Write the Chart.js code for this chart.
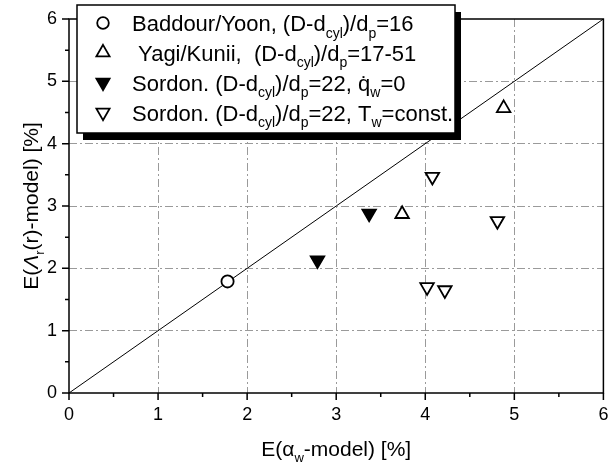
<!DOCTYPE html>
<html>
<head>
<meta charset="utf-8">
<script src="https://cdn.jsdelivr.net/npm/chart.js@4.4.1/dist/chart.umd.min.js"></script>
<style>
html, body { margin: 0; padding: 0; background: #fff; }
#wrap { width: 613px; height: 473px; position: relative; }
</style>
</head>
<body>
<div id="wrap"><canvas id="chart"></canvas></div>
<script>
// values
const baddourX = [1.78];
const baddourY = [1.79];
const yagiX = [3.74, 4.88];
const yagiY = [2.87, 4.57];
const sordonAdiabX = [2.79, 3.37];
const sordonAdiabY = [2.13, 2.88];
const sordonTwX = [4.08, 4.81, 4.02, 4.22];
const sordonTwY = [3.47, 2.76, 1.70, 1.65];
const diagX = [0, 6];
const diagY = [0, 6];
const axisMin = 0, axisMax = 6, tickStep = 0.5;

const FONT = "'Liberation Sans', Arial, Helvetica, sans-serif";

// legend rows, split in normal / subscript parts
const legendRows = [
    { style: 'circle', rot: 0, fill: '#fff', parts: [['Baddour/Yoon, (D-d'], ['cyl', 1], [')/d'], ['p', 1], ['=16']] },
    { style: 'triangle', rot: 0, fill: '#fff', parts: [[' Yagi/Kunii,  (D-d'], ['cyl', 1], [')/d'], ['p', 1], ['=17-51']] },
    { style: 'triangle', rot: 180, fill: '#000', parts: [['Sordon. (D-d'], ['cyl', 1], [')/d'], ['p', 1], ['=22, q\u0307'], ['w', 1], ['=0']] },
    { style: 'triangle', rot: 180, fill: '#fff', parts: [['Sordon. (D-d'], ['cyl', 1], [')/d'], ['p', 1], ['=22, T'], ['w', 1], ['=const.']] }
];
const xTitle = [['E(\u03b1'], ['w', 1], ['-model) [%]']];
const yTitle = [['E('], ['\u039b', 0, 1], ['r', 1], ['(r)-model) [%]']];

const toPts = (xs, ys) => xs.map((x, i) => ({ x: x, y: ys[i] }));

function partFont(p, size) {
    const s = p[1] ? Math.round(size * 0.62) : size;
    return (p[2] ? 'italic ' : '') + s + 'px ' + FONT;
}

function richWidth(ctx, parts, size) {
    let w = 0;
    parts.forEach(p => { ctx.font = partFont(p, size); w += ctx.measureText(p[0]).width; });
    return w;
}

function drawRich(ctx, parts, x, y, size, align) {
    let cx = x;
    if (align === 'center') cx = x - richWidth(ctx, parts, size) / 2;
    ctx.textAlign = 'left';
    ctx.textBaseline = 'alphabetic';
    parts.forEach(p => {
        ctx.font = partFont(p, size);
        ctx.fillText(p[0], cx, p[1] ? y + size * 0.3 : y);
        cx += ctx.measureText(p[0]).width;
    });
}

const decorPlugin = {
    id: 'decor',
    beforeDatasetsDraw(chart) {
        const { ctx, chartArea: a } = chart;
        const xs = chart.scales.x, ys = chart.scales.y;
        ctx.save();
        ctx.strokeStyle = '#000';
        ctx.lineWidth = 1.5;
        ctx.strokeRect(a.left, a.top, a.right - a.left, a.bottom - a.top);
        // tick marks, long on whole numbers
        ctx.beginPath();
        xs.ticks.forEach(t => {
            const px = xs.getPixelForValue(t.value);
            const len = Number.isInteger(t.value) ? 7 : 4;
            ctx.moveTo(px, a.bottom);
            ctx.lineTo(px, a.bottom + len);
        });
        ys.ticks.forEach(t => {
            const py = ys.getPixelForValue(t.value);
            const len = Number.isInteger(t.value) ? 7 : 4;
            ctx.moveTo(a.left, py);
            ctx.lineTo(a.left - len, py);
        });
        ctx.stroke();
        // axis titles
        ctx.fillStyle = '#000';
        drawRich(ctx, xTitle, (a.left + a.right) / 2, 456, 21, 'center');
        ctx.translate(38, (a.top + a.bottom) / 2);
        ctx.rotate(-Math.PI / 2);
        drawRich(ctx, yTitle, 0, 0, 21, 'center');
        ctx.restore();
    },
    afterDraw(chart) {
        const ctx = chart.ctx;
        const bx = 77, by = 5, bw = 378, bh = 128;
        ctx.save();
        ctx.fillStyle = '#000';
        ctx.fillRect(bx + 6, by + 7, bw, bh);
        ctx.fillStyle = '#fff';
        ctx.fillRect(bx, by, bw, bh);
        ctx.strokeStyle = '#000';
        ctx.lineWidth = 1.5;
        ctx.strokeRect(bx, by, bw, bh);
        const rowY = [23, 52.5, 82.5, 112.5];
        legendRows.forEach((r, i) => {
            ctx.fillStyle = r.fill;
            ctx.strokeStyle = '#000';
            ctx.lineWidth = 1.8;
            Chart.helpers.drawPoint(ctx, {
                pointStyle: r.style, rotation: r.rot,
                radius: r.style === 'circle' ? 5.8 : 7.6, borderWidth: 1.8
            }, 103, rowY[i]);
            ctx.fillStyle = '#000';
            drawRich(ctx, r.parts, 132, rowY[i] + 8, 22, 'left');
        });
        ctx.restore();
    }
};

const markerBase = { borderColor: '#000', borderWidth: 1.8, showLine: false };

new Chart(document.getElementById('chart'), {
    type: 'scatter',
    data: {
        datasets: [
            { ...markerBase, label: 'Baddour/Yoon, (D-dcyl)/dp=16', data: toPts(baddourX, baddourY),
              pointStyle: 'circle', pointRadius: 6.1, backgroundColor: '#fff' },
            { ...markerBase, label: 'Yagi/Kunii, (D-dcyl)/dp=17-51', data: toPts(yagiX, yagiY),
              pointStyle: 'triangle', pointRadius: 7.8, backgroundColor: '#fff' },
            { ...markerBase, label: 'Sordon. (D-dcyl)/dp=22, q\u0307w=0', data: toPts(sordonAdiabX, sordonAdiabY),
              pointStyle: 'triangle', rotation: 180, pointRadius: 7.8, backgroundColor: '#000' },
            { ...markerBase, label: 'Sordon. (D-dcyl)/dp=22, Tw=const.', data: toPts(sordonTwX, sordonTwY),
              pointStyle: 'triangle', rotation: 180, pointRadius: 7.8, backgroundColor: '#fff' },
            { type: 'line', label: 'diagonal', data: toPts(diagX, diagY), borderColor: '#000',
              borderWidth: 1, pointRadius: 0, fill: false, order: 10 }
        ]
    },
    options: {
        responsive: true,
        maintainAspectRatio: false,
        animation: false,
        devicePixelRatio: 1,
        layout: { padding: { top: 19, right: 4, left: 0, bottom: 0 } },
        plugins: { legend: { display: false }, tooltip: { enabled: false } },
        scales: {
            x: {
                type: 'linear', min: axisMin, max: axisMax,
                ticks: {
                    stepSize: tickStep, autoSkip: false, maxRotation: 0, padding: 11,
                    color: '#000', font: { family: FONT, size: 18 },
                    callback: v => Number.isInteger(v) ? v : ''
                },
                grid: {
                    drawTicks: false, lineWidth: 1,
                    color: c => (Number.isInteger(c.tick.value) && c.tick.value > axisMin && c.tick.value < axisMax) ? '#9a9a9a' : 'rgba(0,0,0,0)'
                },
                border: { display: false, dash: [8, 3, 2, 3] },
                afterFit: s => { s.height = 80; s.paddingLeft = 0; s.paddingRight = 0; }
            },
            y: {
                type: 'linear', min: axisMin, max: axisMax,
                ticks: {
                    stepSize: tickStep, autoSkip: false, padding: 12,
                    color: '#000', font: { family: FONT, size: 18 },
                    callback: v => Number.isInteger(v) ? v : ''
                },
                grid: {
                    drawTicks: false, lineWidth: 1,
                    color: c => (Number.isInteger(c.tick.value) && c.tick.value > axisMin && c.tick.value < axisMax) ? '#9a9a9a' : 'rgba(0,0,0,0)'
                },
                border: { display: false, dash: [8, 3, 2, 3] },
                afterFit: s => { s.width = 69; s.paddingTop = 0; s.paddingBottom = 0; }
            }
        }
    },
    plugins: [decorPlugin]
});
</script>
</body>
</html>
